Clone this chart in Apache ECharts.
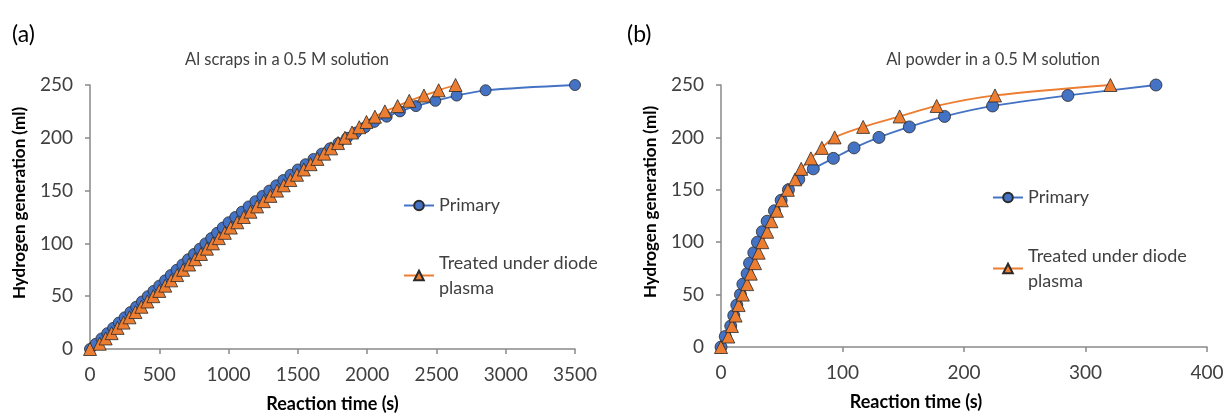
<!DOCTYPE html>
<html><head><meta charset="utf-8">
<script src="https://cdn.jsdelivr.net/npm/echarts@6/dist/echarts.min.js"></script>
<style>html,body{margin:0;padding:0;background:#fff}#c{width:1223px;height:414px}</style>
</head><body><div id="c"></div>
<script>
// ---- Data (a): Al scraps ----
const volA = [0,5,10,15,20,25,30,35,40,45,50,55,60,65,70,75,80,85,90,95,100,105,110,115,120,125,130,135,140,145,150,155,160,165,170,175,180,185,190,195,200,205,210,215,220,225,230,235,240,245,250];
const primaryTimeA = [0,42,83,125,167,208,250,292,333,375,417,458,500,542,583,625,667,708,750,792,833,875,917,958,1000,1048,1096,1145,1194,1244,1294,1344,1395,1447,1500,1556,1613,1672,1732,1793,1855,1920,1985,2051,2141,2237,2352,2492,2646,2855,3500];
const treatedTimeA = [0,70,113,156,199,242,285,328,371,414,457,500,543,586,629,672,715,758,801,844,887,930,973,1016,1063,1110,1158,1206,1254,1302,1350,1398,1446,1494,1543,1592,1641,1690,1740,1790,1840,1891,1943,1995,2056,2128,2220,2304,2410,2516,2638];
// ---- Data (b): Al powder ----
const volB = [0,10,20,30,40,50,60,70,80,90,100,110,120,130,140,150,160,170,180,190,200,210,220,230,240,250];
const primaryTimeB = [0,3.5,8,10.5,13,16,18,21.5,23.5,27,30,34,38,44,49.5,55.5,64,76,92.5,109.5,130,155,184,223.5,285.5,358];
const treatedTimeB = [0,6,9,12,14.5,18,21.5,24.5,28,31,34,38,41.5,46,50,55,61,66,74,83,93.5,117,147,177.5,225.5,320.5];
// ---- Labels ----
const panelLabels = ['(a)','(b)'];
const chartTitles = ['Al scraps in a 0.5 M solution','Al powder in a 0.5 M solution'];
const xTitle = 'Reaction time (s)';
const yTitle = 'Hydrogen generation (ml)';
const seriesNames = ['Primary','Treated under diode plasma'];

const FONT = 'Lato';
const BLUE = '#4472C4', ORANGE = '#ED7D31', AXIS = '#898989', TXT = '#404040';
const pairs = (xs, ys) => xs.map((x, i) => [x, ys[i]]);

const chart = echarts.init(document.getElementById('c'), null, {renderer: 'canvas'});

function xAx(idx, max, interval, shift) {
  return {
    type: 'value', gridIndex: idx, min: 0, max: max, interval: interval,
    name: xTitle, nameLocation: 'middle', nameGap: 46,
    nameTextStyle: {fontFamily: FONT, fontSize: 18, fontWeight: 'bold', color: '#000',
      padding: shift ? [0, shift, 0, 0] : 0},
    axisLine: {lineStyle: {color: AXIS, width: 1.5}},
    axisTick: {show: true, length: 5, lineStyle: {color: AXIS, width: 1.5}},
    axisLabel: {fontFamily: FONT, fontSize: 19, color: TXT, margin: 16, formatter: v => String(v)},
    splitLine: {show: false}
  };
}
function yAx(idx) {
  return {
    type: 'value', gridIndex: idx, min: 0, max: 250, interval: 50,
    name: yTitle, nameLocation: 'middle', nameGap: 62,
    nameTextStyle: {fontFamily: FONT, fontSize: 17, fontWeight: 'bold', color: '#000', padding: [0, 0, 0, 28]},
    axisLine: {show: true, lineStyle: {color: AXIS, width: 1.5}},
    axisTick: {show: true, length: 5, lineStyle: {color: AXIS, width: 1.5}},
    axisLabel: {fontFamily: FONT, fontSize: 19, color: TXT, margin: 17},
    splitLine: {show: false}
  };
}
function ser(name, idx, data, sym, color, size) {
  return {
    name: name, type: 'line', xAxisIndex: idx, yAxisIndex: idx, data: data,
    smooth: 0.3, symbol: sym, symbolSize: size, showSymbol: true,
    lineStyle: {color: color, width: 1.8},
    itemStyle: {color: color, borderColor: '#2a2a2a', borderWidth: 0.8},
    emphasis: {disabled: true}, animation: false
  };
}
function legendFmt(n) { return n === seriesNames[1] ? 'Treated under diode\nplasma' : n; }
function legends(left, topP, topT) {
  const base = {
    orient: 'vertical', left: left, padding: 0, itemWidth: 30, itemHeight: 12,
    itemGap: 0, selectedMode: false, formatter: legendFmt,
    textStyle: {fontFamily: FONT, fontSize: 18, color: TXT, lineHeight: 25}
  };
  return [
    Object.assign({}, base, {top: topP, data: [seriesNames[0]]}),
    Object.assign({}, base, {top: topT, data: [seriesNames[1]],
      textStyle: {fontFamily: FONT, fontSize: 18, color: TXT, lineHeight: 25, padding: [25, 0, 0, 0]}})
  ];
}

chart.setOption({
  animation: false,
  backgroundColor: '#fff',
  title: [
    {text: panelLabels[0], left: 7, top: 18, textStyle: {fontFamily: FONT, fontSize: 23, fontWeight: 'normal', color: '#000'}},
    {text: panelLabels[1], left: 622, top: 18, textStyle: {fontFamily: FONT, fontSize: 23, fontWeight: 'normal', color: '#000'}},
    {text: chartTitles[0], left: 282, textAlign: 'center', top: 46, textStyle: {fontFamily: FONT, fontSize: 16.5, fontWeight: 'normal', color: TXT}},
    {text: chartTitles[1], left: 988, textAlign: 'center', top: 46, textStyle: {fontFamily: FONT, fontSize: 16.5, fontWeight: 'normal', color: TXT}}
  ],
  legend: legends(403, 193, 238).concat(legends(992, 185, 231)),
  grid: [
    {left: 90, right: 648, top: 85, bottom: 65, containLabel: false, outerBoundsMode: 'none'},
    {left: 721, right: 16, top: 85, bottom: 67, containLabel: false, outerBoundsMode: 'none'}
  ],
  xAxis: [xAx(0, 3500, 500, 0), xAx(1, 400, 100, 96)],
  yAxis: [yAx(0), yAx(1)],
  series: [
    ser(seriesNames[0], 0, pairs(primaryTimeA, volA), 'circle', BLUE, 11),
    ser(seriesNames[1], 0, pairs(treatedTimeA, volA), 'triangle', ORANGE, 13),
    ser(seriesNames[0], 1, pairs(primaryTimeB, volB), 'circle', BLUE, 12),
    ser(seriesNames[1], 1, pairs(treatedTimeB, volB), 'triangle', ORANGE, 13)
  ]
});
</script></body></html>
